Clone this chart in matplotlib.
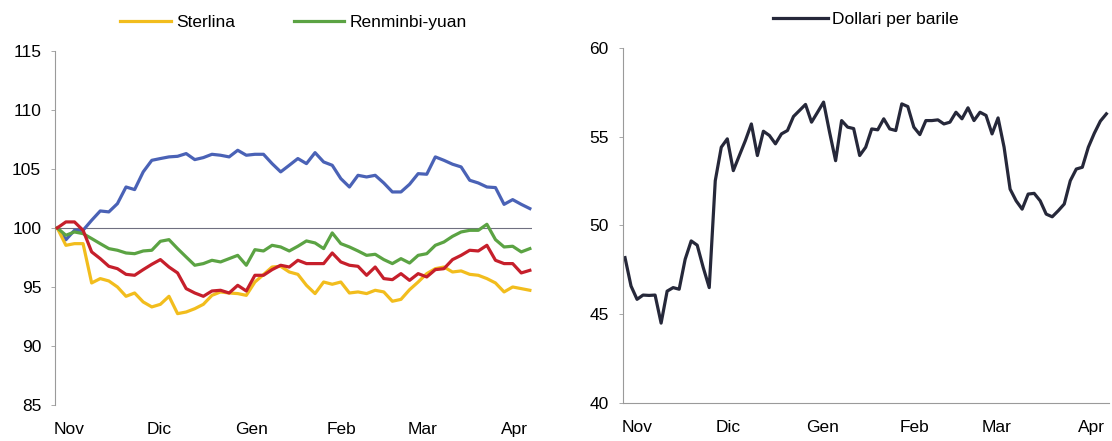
import matplotlib
matplotlib.use("Agg")
from matplotlib import pyplot as plt
import pandas as pd

plt.rcParams['font.family'] = ['Liberation Sans', 'DejaVu Sans']

# tassi di cambio bilaterali dell'euro (indici, 100 = inizio periodo)
dollaro = [100.0, 99.0, 99.8, 99.8, 100.65, 101.44, 101.36, 102.06, 103.47, 103.25,
           104.75, 105.73, 105.88, 106.02, 106.07, 106.3, 105.79, 105.96, 106.24, 106.16,
           106.02, 106.58, 106.16, 106.24, 106.24, 105.45, 104.75, 105.31, 105.88, 105.45,
           106.38, 105.59, 105.31, 104.18, 103.47, 104.46, 104.32, 104.46, 103.81, 103.05,
           103.05, 103.7, 104.6, 104.55, 106.02, 105.73, 105.4, 105.17, 104.04, 103.81,
           103.47, 103.42, 102.0, 102.4, 102.0, 101.64]
sterlina = [100.0, 98.53, 98.67, 98.67, 95.34, 95.71, 95.51, 95.0, 94.21, 94.49,
            93.73, 93.31, 93.53, 94.21, 92.74, 92.88, 93.16, 93.53, 94.29, 94.58,
            94.49, 94.44, 94.29, 95.42, 96.05, 96.69, 96.75, 96.27, 96.07, 95.14,
            94.44, 95.42, 95.23, 95.42, 94.49, 94.58, 94.44, 94.72, 94.58, 93.79,
            93.95, 94.77, 95.42, 96.13, 96.55, 96.69, 96.27, 96.36, 96.07, 95.99,
            95.71, 95.34, 94.58, 95.0, 94.86, 94.72]
yen = [100.0, 100.51, 100.51, 99.8, 97.97, 97.4, 96.75, 96.55, 96.07, 95.99,
       96.47, 96.92, 97.32, 96.69, 96.19, 94.86, 94.49, 94.21, 94.66, 94.72,
       94.49, 95.14, 94.66, 95.99, 95.99, 96.47, 96.84, 96.69, 97.26, 96.98,
       96.98, 96.98, 97.88, 97.12, 96.84, 96.75, 95.99, 96.69, 95.71, 95.62,
       96.13, 95.56, 96.13, 95.85, 96.47, 96.55, 97.32, 97.68, 98.11, 98.05,
       98.53, 97.26, 96.98, 96.98, 96.19, 96.41]
renminbi = [100.0, 99.38, 99.66, 99.52, 99.1, 98.67, 98.25, 98.11, 97.88, 97.82,
            98.05, 98.11, 98.87, 99.01, 98.25, 97.54, 96.84, 96.98, 97.26, 97.12,
            97.4, 97.68, 96.84, 98.16, 98.05, 98.53, 98.39, 98.05, 98.45, 98.9,
            98.73, 98.25, 99.58, 98.67, 98.39, 98.05, 97.68, 97.77, 97.32, 96.98,
            97.4, 97.03, 97.68, 97.82, 98.53, 98.81, 99.29, 99.66, 99.8, 99.8,
            100.31, 99.01, 98.39, 98.45, 97.97, 98.25]

# prezzo del petrolio (dollari per barile)
petrolio = [48.19, 46.59, 45.84, 46.08, 46.06, 46.08, 44.5, 46.3, 46.5, 46.41,
            48.1, 49.13, 48.89, 47.63, 46.5, 52.52, 54.41, 54.88, 53.09, 53.94,
            54.78, 55.72, 53.94, 55.31, 55.07, 54.6, 55.16, 55.35, 56.14, 56.48,
            56.82, 55.82, 56.38, 56.95, 55.25, 53.65, 55.91, 55.54, 55.46, 53.94,
            54.41, 55.44, 55.39, 56.01, 55.44, 55.35, 56.85, 56.7, 55.54, 55.12,
            55.91, 55.91, 55.95, 55.72, 55.82, 56.38, 56.01, 56.63, 55.91, 56.38,
            56.2, 55.16, 56.06, 54.41, 52.05, 51.39, 50.92, 51.77, 51.81, 51.39,
            50.64, 50.49, 50.83, 51.21, 52.52, 53.18, 53.28, 54.41, 55.2, 55.88,
            56.29]

inizio = pd.Timestamp(2016, 10, 31)
fine = pd.Timestamp(2017, 4, 7)
mesi = [pd.Timestamp(2016, 11, 4), pd.Timestamp(2016, 12, 4), pd.Timestamp(2017, 1, 4),
        pd.Timestamp(2017, 2, 3), pd.Timestamp(2017, 3, 2), pd.Timestamp(2017, 4, 2)]
etichette_mesi = ["Nov", "Dic", "Gen", "Feb", "Mar", "Apr"]

date_cambi = pd.date_range(inizio, fine, periods=len(dollaro))
date_petrolio = pd.date_range(inizio, fine, periods=len(petrolio))

giallo = "#f2bd1d"
verde = "#5ba343"
rosso = "#c61f2b"
blu = "#4a62b6"
scuro = "#26283a"
grigio = "#9a9a9a"

fig = plt.figure(figsize=(11.12, 4.41), dpi=100)
ax1 = fig.add_axes([0.0495, 0.0816, 0.429, 0.803])
ax2 = fig.add_axes([0.560, 0.0862, 0.437, 0.805])

lw = 2.3
ax1.axhline(100, color="#707080", lw=0.8, zorder=1)
ax1.plot(date_cambi, dollaro, color=blu, lw=lw, zorder=2)
l_st, = ax1.plot(date_cambi, sterlina, color=giallo, lw=lw, zorder=3, label="Sterlina")
ax1.plot(date_cambi, yen, color=rosso, lw=lw, zorder=4)
l_rmb, = ax1.plot(date_cambi, renminbi, color=verde, lw=lw, zorder=3, label="Renminbi-yuan")
ax1.set_ylim(85, 115)
ax1.set_yticks(range(85, 116, 5))

l_oil, = ax2.plot(date_petrolio, petrolio, color=scuro, lw=lw, label="Dollari per barile")
ax2.set_ylim(40, 60)
ax2.set_yticks(range(40, 61, 5))

for ax in (ax1, ax2):
    ax.set_xlim(inizio - pd.Timedelta(hours=18), fine + pd.Timedelta(hours=18))
    ax.set_xticks(mesi)
    ax.set_xticklabels(etichette_mesi)
    for s in ("top", "right"):
        ax.spines[s].set_visible(False)
    ax.spines["left"].set_color(grigio)
    ax.spines["left"].set_linewidth(0.8)
    ax.spines["bottom"].set_color(grigio)
    ax.spines["bottom"].set_linewidth(0.8)
    ax.tick_params(axis="y", length=3, width=0.6, color=grigio, pad=7, labelsize=12.5)
    ax.tick_params(axis="x", length=0, pad=12, labelsize=12.5)

ax1.spines["bottom"].set_visible(False)

ax1.legend(handles=[l_st, l_rmb], loc="center", bbox_to_anchor=(0.5, 1.08), ncol=2,
           frameon=False, fontsize=12.5, handlelength=2.9, handletextpad=0.3,
           columnspacing=3.4)
ax2.legend(handles=[l_oil], loc="center", bbox_to_anchor=(0.5, 1.08), frameon=False,
           fontsize=12.5, handlelength=3.2, handletextpad=0.2)

fig.savefig("out.png", dpi=100, facecolor="white")
